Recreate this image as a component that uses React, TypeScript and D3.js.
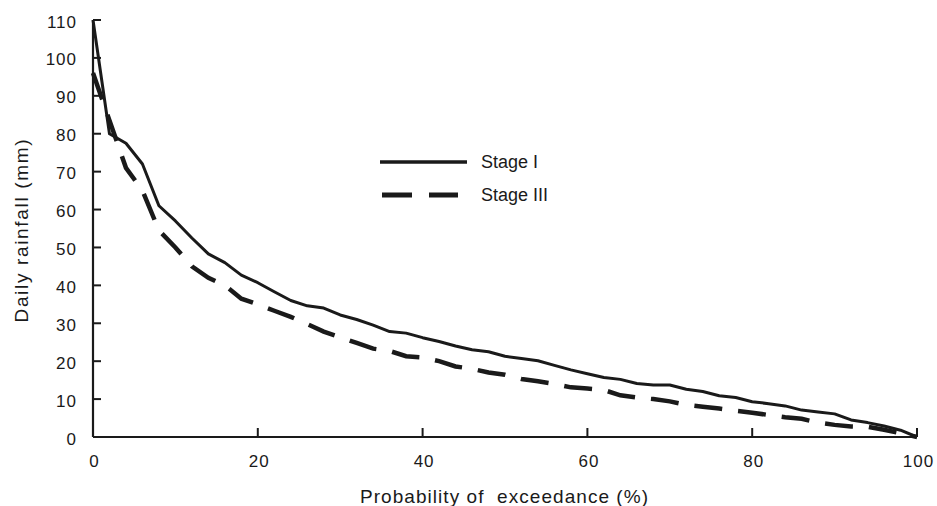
import React from "react";
import * as d3 from "d3";

const probability: number[] = [0,2,4,6,8,10,12,14,16,18,20,22,24,26,28,30,32,34,36,38,40,42,44,46,48,50,52,54,56,58,60,62,64,66,68,70,72,74,76,78,80,82,84,86,88,90,92,94,96,98,100];
const stageI: number[] = [110,80,77.5,72,61,57,52.5,48.3,46,42.7,40.7,38.3,36,34.6,34,32.2,31,29.5,27.8,27.4,26.2,25.2,24,23,22.5,21.3,20.7,20.1,18.9,17.7,16.7,15.7,15.2,14.1,13.7,13.7,12.6,12,10.9,10.4,9.3,8.8,8.2,7.1,6.6,6.1,4.5,3.8,2.9,1.8,0];
const stageIII: number[] = [96,83.5,71,65,54.5,50,45,42,40,36.5,35,33.3,31.7,29.8,27.8,26.3,24.8,23.3,22.7,21.3,21,20,18.6,18,17,16.4,15.3,14.7,14,13.1,12.8,12.4,11,10.4,10,9.4,8.5,8,7.5,6.9,6.4,5.8,5.2,4.8,3.8,3.2,2.8,2.7,1.9,1,0];
const xTicks: number[] = [0, 20, 40, 60, 80, 100];
const yTicks: number[] = [0, 10, 20, 30, 40, 50, 60, 70, 80, 90, 100, 110];
const seriesNames: string[] = ["Stage I", "Stage III"];

const W = 937, H = 506;
const font = "'Liberation Sans', Arial, sans-serif";

export default function App() {
  const x = d3.scaleLinear().domain([0, 100]).range([93, 917]);
  const y = d3.scaleLinear().domain([0, 110]).range([437, 20]);
  const line = d3.line<[number, number]>().x(d => x(d[0])).y(d => y(d[1]));
  const d1 = line(probability.map((p, i) => [p, stageI[i]]))!;
  const d3p = line(probability.map((p, i) => [p, stageIII[i]]))!;
  const color = "#1a1a1a";
  return (
    <svg width={W} height={H} style={{ position: "absolute", left: 0, top: 0 }} fontFamily={font}>
      <rect width={W} height={H} fill="#fff" />
      <line x1={x(0)} x2={x(0)} y1={y(110)} y2={y(0)} stroke={color} strokeWidth={2.2} />
      <line x1={x(0)} x2={x(100)} y1={y(0)} y2={y(0)} stroke={color} strokeWidth={2.2} />
      {yTicks.map(t => (
        <g key={"y" + t}>
          <line x1={x(0)} x2={x(0) + 8} y1={y(t)} y2={y(t)} stroke={color} strokeWidth={2} />
          <text x={77} y={y(t) + 7.5} textAnchor="end" fontSize={17} fill={color} letterSpacing={1}>{t}</text>
        </g>
      ))}
      {xTicks.map(t => (
        <g key={"x" + t}>
          <line x1={x(t)} x2={x(t)} y1={y(0)} y2={y(0) - 9} stroke={color} strokeWidth={2} />
          <text x={x(t) + 1.5} y={467} textAnchor="middle" fontSize={17} fill={color} letterSpacing={1}>{t}</text>
        </g>
      ))}
      <text x={504} y={503} textAnchor="middle" fontSize={19} fill={color} textLength={288} lengthAdjust="spacing" style={{ whiteSpace: "pre" }}>{"Probability of  exceedance (%)"}</text>
      <text transform={`translate(28,231) rotate(-90)`} textAnchor="middle" fontSize={19} fill={color} textLength={183} lengthAdjust="spacing">Daily rainfall (mm)</text>
      <path d={d1} fill="none" stroke={color} strokeWidth={3} strokeLinejoin="round" />
      <path d={d3p} fill="none" stroke={color} strokeWidth={4.5} strokeDasharray="28,16" />
      <line x1={380} x2={467} y1={162} y2={162} stroke={color} strokeWidth={3.5} />
      <text x={481} y={168} fontSize={18} fill={color}>{seriesNames[0]}</text>
      <line x1={382} x2={458} y1={195} y2={195} stroke={color} strokeWidth={5} strokeDasharray="30,17" />
      <text x={481} y={201} fontSize={18} fill={color}>{seriesNames[1]}</text>
    </svg>
  );
}
